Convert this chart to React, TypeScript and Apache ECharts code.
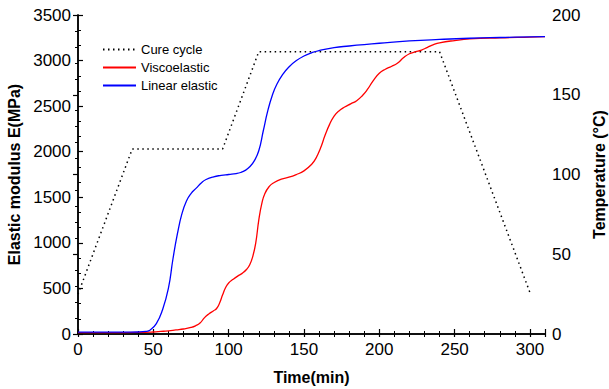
import React, { useEffect, useRef } from "react";
import * as echarts from "echarts";

// Cure cycle (temperature, °C) vs time (min)
const cureTime = [0, 36, 96, 120, 240, 300];
const cureTemp = [25, 116, 116, 177, 177, 26];

// Linear elastic modulus (MPa) vs time (min)
const linTime = [0, 10, 20, 30, 40, 45, 48, 52, 56, 60, 63, 66, 69, 72, 75, 78.5, 82, 85, 90, 95, 100, 105, 108, 111, 114, 117, 120, 123, 126, 129, 132, 136, 140, 145, 150, 155, 160, 170, 180, 190, 200, 220, 240, 260, 280, 300, 310];
const linE = [20, 20, 20, 20, 22, 28, 45, 114, 260, 500, 820, 1100, 1320, 1460, 1540, 1600, 1660, 1695, 1725, 1740, 1750, 1760, 1772, 1795, 1835, 1900, 2010, 2230, 2450, 2620, 2740, 2850, 2930, 3000, 3050, 3085, 3110, 3142, 3160, 3176, 3190, 3215, 3232, 3245, 3253, 3259, 3262];

// Viscoelastic modulus (MPa) vs time (min)
const viscoTime = [0, 20, 40, 50, 55, 60, 65, 70, 75, 78, 81, 84, 87, 90, 92, 94, 96, 98, 100, 103, 106, 109, 112, 114, 116, 118, 120, 122, 124, 127, 130, 135, 140, 145, 150, 155, 158, 161, 164, 167, 170, 173, 177, 181, 185, 189, 192, 196, 200, 204, 208, 212, 216, 220, 224, 228, 232, 236, 240, 250, 260, 280, 300, 310];
const viscoE = [15, 15, 17, 22, 28, 35, 45, 55, 72, 90, 120, 180, 222, 255, 280, 340, 430, 510, 560, 600, 635, 665, 710, 760, 850, 1000, 1250, 1430, 1540, 1620, 1660, 1700, 1720, 1750, 1790, 1860, 1930, 2040, 2180, 2300, 2390, 2445, 2490, 2525, 2560, 2620, 2680, 2780, 2860, 2905, 2935, 2970, 3030, 3075, 3095, 3115, 3145, 3175, 3195, 3220, 3237, 3250, 3258, 3262];

const seriesNames = ["Cure cycle", "Viscoelastic", "Linear elastic"];

const zip = (a: number[], b: number[]) => a.map((v, i) => [v, b[i]]);

const FONT = "Arial, 'Liberation Sans', sans-serif";
const AX = "#000";

export default function App() {
  const ref = useRef<HTMLDivElement>(null);
  useEffect(() => {
    if (!ref.current) return;
    const chart = echarts.init(ref.current, undefined, { renderer: "svg" });
    const tickCommon = { inside: true, length: 5, lineStyle: { color: AX, width: 1.2 } };
    const minorCommon = { show: true, length: 3, lineStyle: { color: AX, width: 1 } };
    const plain = (v: number) => String(v);
    chart.setOption({
      animation: false,
      backgroundColor: "#fff",
      grid: { left: 78, right: 64, top: 15, bottom: 55, containLabel: false, outerBoundsMode: "none" },
      legend: {
        orient: "vertical",
        left: 97,
        top: 38,
        itemWidth: 33,
        itemHeight: 12,
        itemGap: 5,
        itemStyle: { opacity: 0 },
        textStyle: { fontFamily: FONT, fontSize: 13, color: "#000" },
        data: seriesNames,
      },
      xAxis: [
        {
          type: "value",
          min: 0,
          max: 310,
          interval: 50,
          name: "Time(min)",
          nameLocation: "middle",
          nameGap: 35,
          nameTextStyle: { fontFamily: FONT, fontSize: 16, fontWeight: "bold", color: "#000" },
          axisLine: { show: true, lineStyle: { color: AX, width: 1.5 } },
          axisTick: tickCommon,
          minorTick: { ...minorCommon, splitNumber: 5 },
          splitLine: { show: false },
          axisLabel: { fontFamily: FONT, fontSize: 17, color: "#000", margin: 7, showMaxLabel: false, formatter: plain },
        },
        {
          type: "value",
          position: "top",
          min: 0,
          max: 310,
          interval: 50,
          axisLine: { show: true, lineStyle: { color: AX, width: 1.5 } },
          axisTick: { ...tickCommon, length: 3 },
          minorTick: { ...minorCommon, splitNumber: 5 },
          splitLine: { show: false },
          axisLabel: { show: false },
        },
      ],
      yAxis: [
        {
          type: "value",
          min: 0,
          max: 3500,
          interval: 500,
          name: "Elastic modulus E(MPa)",
          nameLocation: "middle",
          nameGap: 56,
          nameTextStyle: { fontFamily: FONT, fontSize: 16, fontWeight: "bold", color: "#000" },
          axisLine: { show: true, lineStyle: { color: AX, width: 1.5 } },
          axisTick: tickCommon,
          minorTick: { ...minorCommon, splitNumber: 3 },
          splitLine: { show: false },
          axisLabel: { fontFamily: FONT, fontSize: 17, color: "#000", margin: 7, formatter: plain },
        },
        {
          type: "value",
          position: "right",
          min: 0,
          max: 200,
          interval: 50,
          name: "Temperature (°C)",
          nameLocation: "middle",
          nameGap: 45,
          nameRotate: 90,
          nameTextStyle: { fontFamily: FONT, fontSize: 16, fontWeight: "bold", color: "#000" },
          axisLine: { show: true, lineStyle: { color: AX, width: 1.5 } },
          axisTick: tickCommon,
          minorTick: { ...minorCommon, splitNumber: 5 },
          splitLine: { show: false },
          axisLabel: { fontFamily: FONT, fontSize: 17, color: "#000", margin: 7, formatter: plain },
        },
      ],
      series: [
        {
          name: seriesNames[0],
          type: "line",
          yAxisIndex: 1,
          data: zip(cureTime, cureTemp),
          symbol: "none",
          lineStyle: { color: "#000", width: 1.5, type: [1.5, 3.5] },
          itemStyle: { color: "#000" },
        },
        {
          name: seriesNames[1],
          type: "line",
          data: zip(viscoTime, viscoE),
          symbol: "none",
          smooth: 0.5,
          lineStyle: { color: "#ff0000", width: 1.3 },
          itemStyle: { color: "#ff0000" },
        },
        {
          name: seriesNames[2],
          type: "line",
          data: zip(linTime, linE),
          symbol: "none",
          smooth: 0.5,
          lineStyle: { color: "#0000ff", width: 1.3 },
          itemStyle: { color: "#0000ff" },
        },
      ],
    });
    return () => chart.dispose();
  }, []);
  return (
    <div
      ref={ref}
      style={{ position: "fixed", left: 0, top: 0, width: 609, height: 389, background: "#fff" }}
    />
  );
}
